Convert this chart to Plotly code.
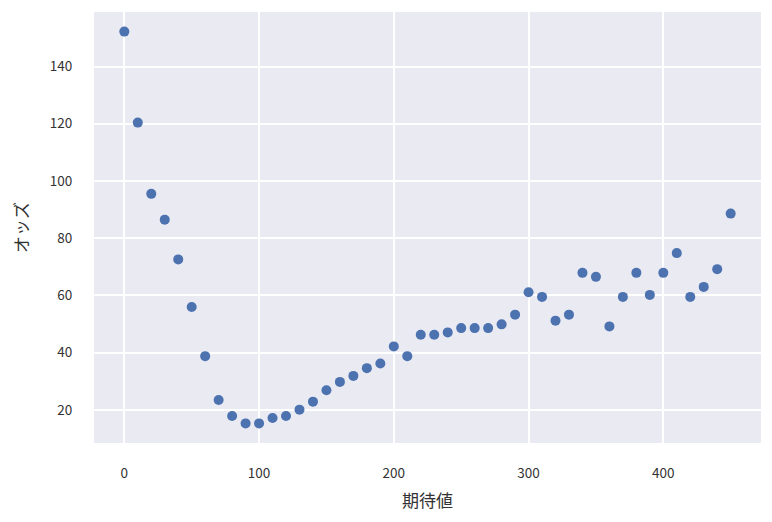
import plotly.graph_objects as go

# 期待値 (expected value) and オッズ (odds)
expected = [0, 10, 20, 30, 40, 50, 60, 70, 80, 90,
            100, 110, 120, 130, 140, 150, 160, 170, 180, 190,
            200, 210, 220, 230, 240, 250, 260, 270, 280, 290,
            300, 310, 320, 330, 340, 350, 360, 370, 380, 390,
            400, 410, 420, 430, 440, 450]
odds = [152.2, 120.4, 95.5, 86.5, 72.6, 56.0, 38.8, 23.5, 17.9, 15.3,
        15.3, 17.2, 17.9, 20.1, 22.9, 26.9, 29.8, 31.9, 34.6, 36.2,
        42.2, 38.8, 46.3, 46.3, 47.1, 48.6, 48.6, 48.6, 49.9, 53.3,
        61.1, 59.5, 51.2, 53.3, 67.9, 66.5, 49.2, 59.5, 67.9, 60.2,
        67.9, 74.8, 59.5, 63.0, 69.2, 88.6]

FONT = "Noto Sans CJK JP"

fig = go.Figure()
fig.add_trace(go.Scatter(
    x=expected,
    y=odds,
    mode="markers",
    marker=dict(color="#4C72B0", size=10, line=dict(width=0)),
    showlegend=False,
))

axis_common = dict(
    showgrid=True,
    gridcolor="white",
    gridwidth=1.7,
    zeroline=False,
    showline=False,
    ticks="outside",
    tickcolor="rgba(0,0,0,0)",
    tickfont=dict(family=FONT, size=13.5, color="#333333"),
)

# page body has an 8px margin, so margins are shifted to compensate
fig.update_layout(
    width=772,
    height=522,
    paper_bgcolor="white",
    plot_bgcolor="#EAEAF2",
    margin=dict(l=86, r=19, t=4, b=87),
    xaxis=dict(
        **axis_common,
        range=[-22.5, 472.5],
        tickvals=[0, 100, 200, 300, 400],
        ticklen=18,
        title=dict(text="期待値", font=dict(family=FONT, size=17, color="#333333"), standoff=13),
    ),
    yaxis=dict(
        **axis_common,
        range=[8.45, 159.05],
        tickvals=[20, 40, 60, 80, 100, 120, 140],
        ticklen=18,
        title=dict(text="オッズ", font=dict(family=FONT, size=17, color="#333333"), standoff=17),
    ),
)

fig.write_html("out.html")
